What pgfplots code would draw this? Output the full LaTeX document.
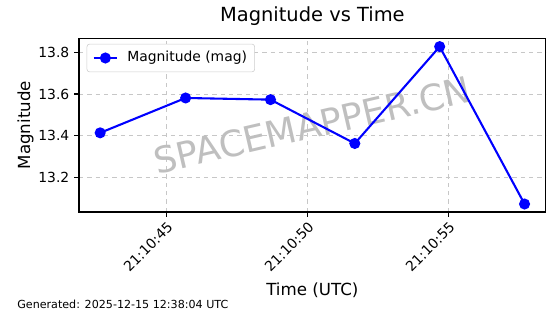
\documentclass[border=0pt]{standalone}
\usepackage{pgfplots}
\pgfplotsset{compat=1.18}
\usepackage{fontspec}
\setmainfont{DejaVu Sans}
\begin{document}
\begin{tikzpicture}
\begin{axis}[
  at={(0,0)}, anchor=south west,
  scale only axis, width=336pt, height=124.9pt,
  xmin=41.90, xmax=58.45, ymin=13.035, ymax=13.866,
  xtick={45,50,55}, xticklabels={21:10:45,21:10:50,21:10:55},
  ytick={13.2,13.4,13.6,13.8},
  yticklabel style={/pgf/number format/fixed, /pgf/number format/precision=1, /pgf/number format/fixed zerofill},
  /pgf/number format/assume math mode=true,
  tick label style={font=\fontsize{10}{12}\selectfont},
  xticklabel style={rotate=45, anchor=north east, inner sep=2pt},
  tick align=outside, tick pos=left, major tick length=3.5pt,
  grid=major, grid style={dashed, color=black!22, line width=0.6pt},
  axis line style={line width=0.8pt}, every tick/.style={black, line width=0.8pt},
  title={Magnitude vs Time},
  title style={font=\fontsize{14}{16}\selectfont, at={(axis description cs:0.5,1.049)}, anchor=base},
  xlabel={Time (UTC)},
  xlabel style={font=\fontsize{12}{14}\selectfont, at={(axis description cs:0.5,-0.479)}, anchor=base},
  ylabel={Magnitude},
  ylabel style={font=\fontsize{12}{14}\selectfont, at={(axis description cs:-0.105,0.5)}, anchor=base},
  legend style={at={(axis description cs:0,1)}, anchor=north west, xshift=5.5pt, yshift=-3.8pt,
    draw=black!20, rounded corners=2pt, font=\fontsize{10}{12}\selectfont,
    inner xsep=4pt, inner ysep=3.5pt, column sep=5pt,
    nodes={inner sep=1.5pt, text depth=0.25em}},
  legend cell align=left,
]
\node[rotate=13, text=black!25, font=\fontsize{26}{30}\selectfont] at (rel axis cs:0.5,0.5) {SPACEMAPPER.CN};
\addplot[color=blue, line width=1.5pt, mark=*, mark size=3.2pt, mark options={fill=blue, draw=blue}]
  coordinates {(42.65,13.414) (45.68,13.581) (48.69,13.573) (51.68,13.363) (54.69,13.827) (57.70,13.073)};
\addlegendentry{Magnitude (mag)}
\end{axis}
\node[anchor=base west, font=\fontsize{8}{10}\selectfont, inner sep=0pt] at (-44.6pt,-69.8pt) {Generated: 2025-12-15 12:38:04 UTC};
\pgfresetboundingbox
\path[use as bounding box] (-56.9pt,-73.4pt) rectangle (346.3pt,152.6pt);
\end{tikzpicture}
\end{document}
